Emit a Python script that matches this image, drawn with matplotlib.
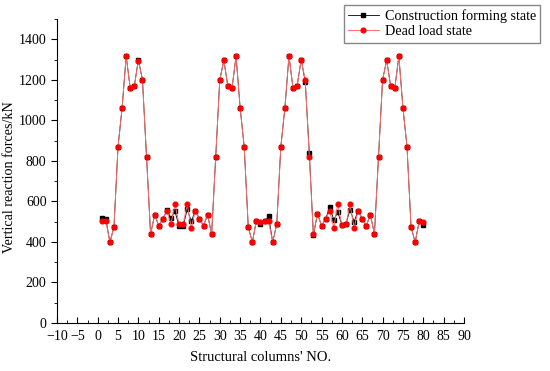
import matplotlib
matplotlib.use('Agg')
import matplotlib.pyplot as plt
from matplotlib.ticker import MultipleLocator

plt.rcParams['font.family'] = ['Liberation Serif', 'DejaVu Serif']
plt.rcParams['font.size'] = 10

# column numbers 1..80
columns = list(range(1, 81))

# dead load state (red)
dead_load = [504, 505, 399, 473, 870, 1062, 1317, 1158, 1169, 1295,
             1200, 820, 439, 534, 480, 514, 554, 490, 585, 488,
             488, 585, 470, 554, 514, 480, 534, 439, 820, 1200,
             1296, 1167, 1158, 1317, 1062, 870, 473, 399, 505, 498,
             501, 501, 399, 488, 870, 1062, 1317, 1158, 1169, 1298,
             1200, 820, 439, 539, 480, 514, 551, 471, 585, 485,
             488, 585, 470, 554, 514, 480, 534, 439, 820, 1200,
             1296, 1167, 1158, 1317, 1062, 870, 473, 399, 501, 498]

# construction forming state (black)
construction = [518, 513, 399, 473, 870, 1062, 1317, 1158, 1169, 1300,
                1200, 820, 439, 534, 480, 514, 556, 518, 551, 477,
                477, 562, 501, 554, 514, 480, 534, 439, 820, 1200,
                1296, 1167, 1158, 1317, 1062, 870, 473, 399, 505, 490,
                501, 526, 399, 488, 870, 1062, 1317, 1158, 1169, 1300,
                1189, 840, 432, 539, 480, 514, 570, 510, 546, 485,
                488, 560, 500, 554, 514, 480, 534, 439, 820, 1200,
                1296, 1167, 1158, 1317, 1062, 870, 473, 399, 501, 485]

fig = plt.figure(figsize=(5.5, 3.71), dpi=100)
ax = fig.add_axes([0.1036, 0.1294, 0.74, 0.8194])

ax.plot(columns, construction, color='black', lw=0.6, marker='s', ms=3.2,
        label='Construction forming state')
ax.plot(columns, dead_load, color='#ff7070', lw=0.7, marker='o', ms=3.4,
        mec='#ff0000', mfc='#ff0000', label='Dead load state')

ax.set_xlim(-10, 90)
ax.xaxis.set_major_locator(MultipleLocator(5))
ax.xaxis.set_minor_locator(MultipleLocator(2.5))
ax.yaxis.set_minor_locator(MultipleLocator(100))
ax.set_yticks(range(0, 1401, 200))
ax.set_ylim(0, 1500)

ax.spines['top'].set_visible(False)
ax.spines['right'].set_visible(False)
ax.tick_params(axis='x', which='both', direction='in', length=4, pad=5)
ax.tick_params(axis='x', which='minor', length=2.5)
ax.tick_params(axis='y', which='both', direction='out', length=4)
ax.tick_params(axis='y', which='minor', length=2.5)

ax.set_xlabel("Structural columns' NO.", fontsize=10.5, labelpad=6)
ax.set_ylabel('Vertical reaction forces/kN', fontsize=10.2)
ax.yaxis.set_label_coords(-0.1, 0.48)

fig.legend(loc='upper right', bbox_to_anchor=(0.995, 1.005), fancybox=False,
           edgecolor='#888888', framealpha=1, handlelength=2.2,
           borderpad=0.3, labelspacing=0.15, handletextpad=0.4, fontsize=10.2)

fig.savefig('out.png', dpi=100)
